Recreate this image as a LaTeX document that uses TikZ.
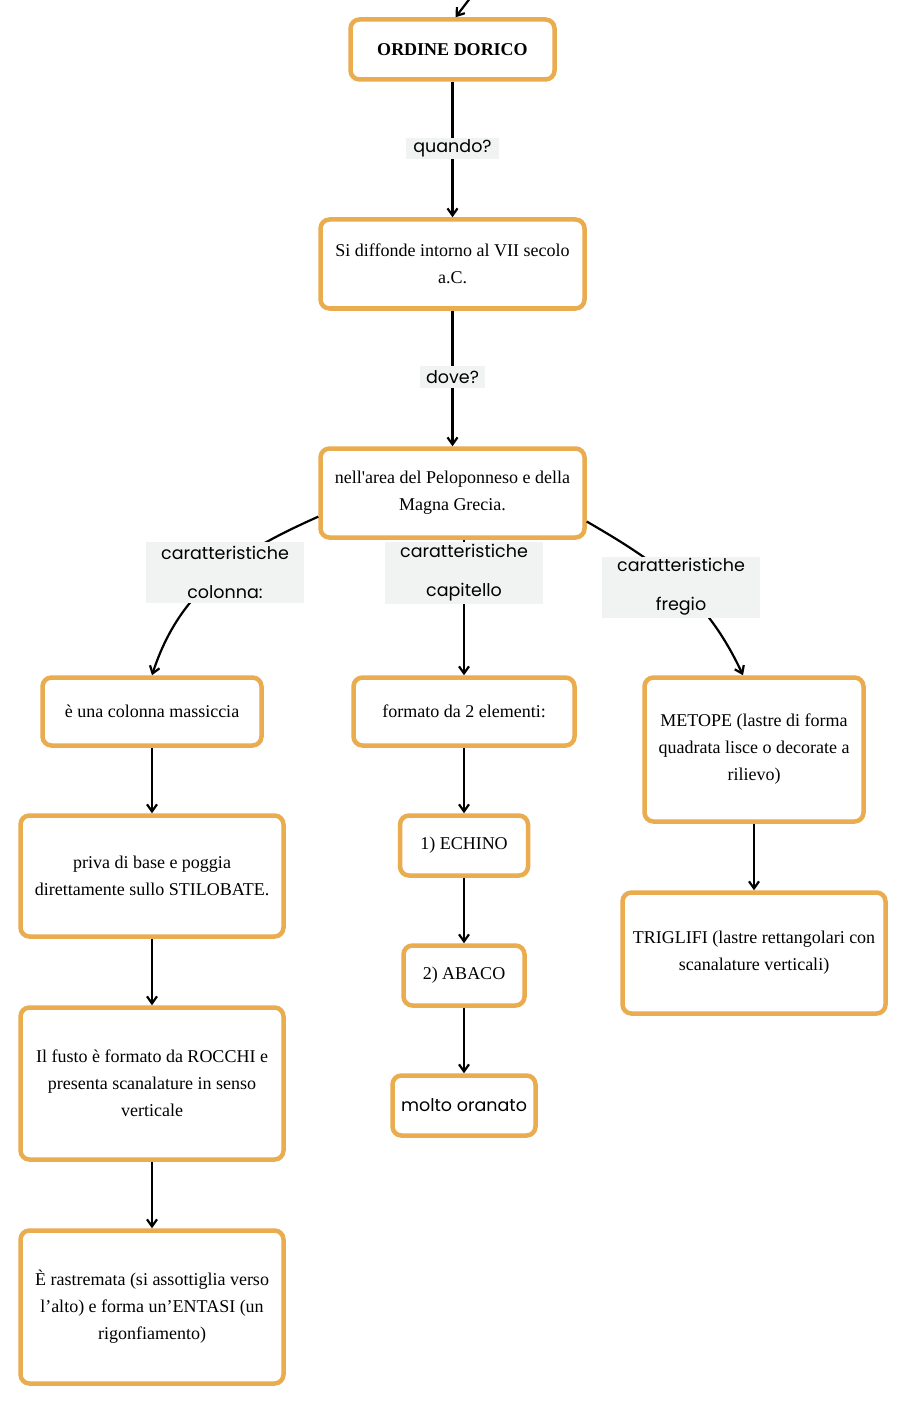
\documentclass[tikz,border=0pt]{standalone}
\usepackage{fontspec}
\setmainfont{Liberation Serif}
\newfontfamily\lblfont{Poppins}
\usetikzlibrary{arrows.meta}
\definecolor{dorange}{RGB}{233,172,78}
\definecolor{lblgray}{RGB}{241,243,243}

\begin{document}
\begin{tikzpicture}[x=1pt,y=-1pt,
	box/.style={draw=dorange, line width=4.5pt, rounded corners=9pt, fill=white, align=center, inner sep=0pt, font=\fontsize{18}{27}\selectfont},
	lbl/.style={fill=lblgray, align=center, inner xsep=6pt, inner ysep=0pt, font=\lblfont\fontsize{17.5}{39}\selectfont},
	arr/.style={-{Straight Barb[length=7pt,width=10pt]}, line width=2.2pt}]
				\fill[white] (0,0) rectangle (906,1404);
				\useasboundingbox (0,0) rectangle (906,1404);
				
				\node[box, minimum width=204pt, minimum height=60pt] (ordine) at (452.5,49.5) {\textbf{ORDINE DORICO}};
				\node[box, minimum width=264pt, minimum height=89pt] (diffonde) at (452.5,264) {Si diffonde intorno al VII secolo\\a.C.};
				\node[box, minimum width=264pt, minimum height=89pt] (area) at (452.5,493) {nell\textquotesingle area del Peloponneso e della\\Magna Grecia.};
				
				\node[box, minimum width=219pt, minimum height=68pt] (colonna) at (152,711.5) {è una colonna massiccia};
				\node[box, minimum width=263pt, minimum height=121pt] (priva) at (152,876) {priva di base e poggia\\direttamente sullo STILOBATE.};
				\node[box, minimum width=263pt, minimum height=152pt] (fusto) at (152,1083.5) {Il fusto è formato da ROCCHI e\\presenta scanalature in senso\\verticale};
				\node[box, minimum width=263pt, minimum height=153pt] (rastremata) at (152,1307) {È rastremata (si assottiglia verso\\l’alto) e forma un’ENTASI (un\\rigonfiamento)};
				
				\node[box, minimum width=221pt, minimum height=68pt] (formato) at (464,711.5) {formato da 2 elementi:};
				\node[box, minimum width=128pt, minimum height=60pt] (echino) at (464,845.5) {1) ECHINO};
				\node[box, minimum width=121pt, minimum height=60pt] (abaco) at (464,975.5) {2) ABACO};
				\node[box, minimum width=143pt, minimum height=60pt, font=\lblfont\fontsize{17.5}{27}\selectfont] (oranato) at (464,1105.5) {molto oranato};
				
				\node[box, minimum width=219pt, minimum height=144pt] (metope) at (754,749.5) {METOPE (lastre di forma\\quadrata lisce o decorate a\\rilievo)};
				\node[box, minimum width=263pt, minimum height=121pt] (triglifi) at (754,953) {TRIGLIFI (lastre rettangolari con\\scanalature verticali)};
				
				\coordinate (incoming) at (471,-3);
				\draw[arr] (incoming) -- ([xshift=3pt]ordine.north);
				\draw[arr] (ordine) -- (diffonde);
				\draw[arr] (diffonde) -- (area);
				\draw[arr] (area.190) to[out=204, in=72] (colonna.north);
				\draw[arr] (area.south -| formato.north) -- (formato.north);
				\draw[arr] (area.348) to[out=330, in=115] ([xshift=-11pt]metope.north);
				
				\draw[arr] (colonna) -- (priva);
				\draw[arr] (priva) -- (fusto);
				\draw[arr] (fusto) -- (rastremata);
				\draw[arr] (formato) -- (echino);
				\draw[arr] (echino) -- (abaco);
				\draw[arr] (abaco) -- (oranato);
				\draw[arr] (metope) -- (triglifi);
				
				\node[lbl, minimum width=93pt, minimum height=21pt] (lquando) at (452.5,148.5) {quando?};
				\node[lbl, minimum width=63pt, minimum height=22pt] (ldove) at (452.5,377) {dove?};
				\node[lbl, minimum width=158pt, minimum height=61pt] (lcolonna) at (225,572.5) {caratteristiche\\colonna:};
				\node[lbl, minimum width=158pt, minimum height=62pt] (lcapitello) at (464,573) {caratteristiche\\capitello};
				\node[lbl, minimum width=158pt, minimum height=61pt] (lfregio) at (681,587) {caratteristiche\\fregio};
\end{tikzpicture}
\end{document}
